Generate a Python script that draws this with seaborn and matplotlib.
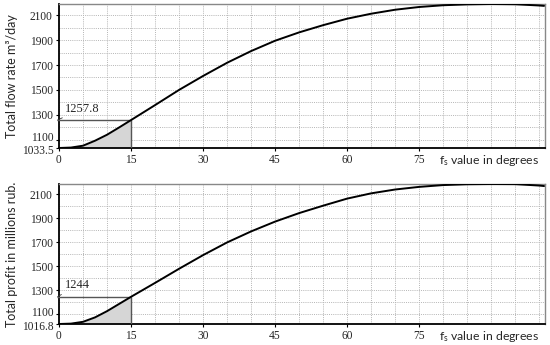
import numpy as np
import pandas as pd
import matplotlib
matplotlib.use("Agg")
import matplotlib.pyplot as plt
import seaborn as sns
from matplotlib.ticker import MultipleLocator
import matplotlib.transforms as mtransforms

# ---- data ----
angle = [0, 2.5, 5, 7.5, 10, 12.5, 15, 20, 25, 30, 35, 40, 45, 50, 55, 60,
         65, 70, 75, 80, 85, 90, 95, 100, 101]
flow_rate = [1033.5, 1037, 1052, 1092, 1140, 1198, 1257.8, 1378, 1500, 1612,
             1718, 1812, 1895, 1962, 2020, 2072, 2112, 2144, 2166, 2180,
             2187, 2190, 2188, 2178, 2175]
profit = [1016.8, 1020, 1035, 1072, 1124, 1184, 1244, 1360, 1478, 1592,
          1698, 1790, 1872, 1943, 2005, 2064, 2108, 2140, 2162, 2177,
          2184, 2186, 2185, 2173, 2169]

x_ticks = [0, 15, 30, 45, 60, 75]
y_ticks = [1100, 1300, 1500, 1700, 1900, 2100]
marker_x = 15

panels = [
    dict(y=flow_rate, ylabel="Total flow rate m³/day", ymin=1033.5, ymax=2190,
         mark=1257.8, mark_label="1257.8", base_label="1033.5"),
    dict(y=profit, ylabel="Total profit in millions rub.", ymin=1016.8, ymax=2186,
         mark=1244, mark_label="1244", base_label="1016.8"),
]

sns.set_theme(style="white")
plt.rcParams["font.family"] = ["Liberation Serif", "DejaVu Serif"]
plt.rcParams["mathtext.fontset"] = "custom"
plt.rcParams["mathtext.rm"] = "Lato"

SANS = ["Lato", "DejaVu Sans"]
TICK_FS = 8.3

fig = plt.figure(figsize=(5.5, 3.45), dpi=100)
W, H = 550, 345
boxes = [(59, 4, 545, 148), (59, 184, 545, 324)]

for box, p in zip(boxes, panels):
    l, t, r, b = box
    ax = fig.add_axes([l / W, 1 - b / H, (r - l) / W, (b - t) / H])
    df = pd.DataFrame({"angle": angle, "value": p["y"]})
    sns.lineplot(data=df, x="angle", y="value", ax=ax, color="black",
                 linewidth=1.4, zorder=4)
    sub = df[df["angle"] <= marker_x]
    ax.fill_between(sub["angle"], p["ymin"], sub["value"], color="#d6d6d6",
                    zorder=2, linewidth=0)
    ax.hlines(p["mark"], -0.5, marker_x, color="#555555", lw=1.0, zorder=3,
              clip_on=False)
    ax.vlines(marker_x, p["ymin"], p["mark"], color="#555555", lw=1.0, zorder=3)
    ax.annotate(p["mark_label"], xy=(-0.3, p["mark"]), xytext=(5, 4),
                textcoords="offset points", ha="left", va="bottom",
                fontsize=9, annotation_clip=False,
                arrowprops=dict(arrowstyle="-", lw=0.6, color="#333333",
                                shrinkA=0, shrinkB=0))

    ax.set_xlim(0, 101.2)
    ax.set_ylim(p["ymin"], p["ymax"])
    ax.xaxis.set_minor_locator(MultipleLocator(5))
    ax.yaxis.set_minor_locator(MultipleLocator(100))
    ax.set_xticks(x_ticks)
    ax.set_xticklabels([str(v) for v in x_ticks])
    ax.set_yticks([p["ymin"]] + y_ticks)
    # the two lowest labels are drawn separately (nudged apart as in the reference)
    ax.set_yticklabels(["", ""] + [str(v) for v in y_ticks[1:]])
    ax.annotate(str(y_ticks[0]), xy=(0, y_ticks[0]), xytext=(-5, 1.5),
                textcoords="offset pixels", ha="right", va="center",
                fontsize=TICK_FS, annotation_clip=False)
    ax.annotate(p["base_label"], xy=(0, p["ymin"]), xytext=(-5, -3),
                textcoords="offset pixels", ha="right", va="center",
                fontsize=TICK_FS, annotation_clip=False)
    ax.grid(True, which="both", linestyle=(0, (1, 1.2)), color="#b5b5b5",
            linewidth=0.7, zorder=0)
    ax.set_axisbelow(True)
    ax.tick_params(axis="both", which="major", labelsize=TICK_FS, length=2.5,
                   width=0.8, pad=2, color="black", direction="out")
    ax.tick_params(axis="both", which="minor", length=0)
    ax.tick_params(axis="x", bottom=True)
    ax.tick_params(axis="y", left=True)
    ax.set_xlabel("")
    ax.set_ylabel(p["ylabel"], fontsize=9, family=SANS, labelpad=1)
    ax.yaxis.set_label_coords(-0.085, 0.5)
    for side in ["left", "bottom"]:
        ax.spines[side].set_color("black")
        ax.spines[side].set_linewidth(1.3)
    for side in ["top", "right"]:
        ax.spines[side].set_color("#888888")
        ax.spines[side].set_linewidth(1.0)
    trans = mtransforms.blended_transform_factory(ax.transData, ax.transAxes)
    ax.text(89.5, -0.035, r"$\mathregular{f_s}$ value in degrees", transform=trans,
            ha="center", va="top", fontsize=8.8, family=SANS)

fig.savefig("out.png", dpi=100)
